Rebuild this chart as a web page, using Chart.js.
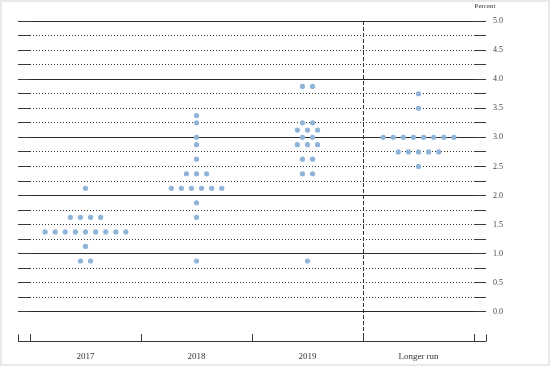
<!DOCTYPE html>
<html>
<head>
<meta charset="utf-8">
<style>
  html, body { margin: 0; padding: 0; background: #fff; }
  #wrap { position: relative; width: 550px; height: 366px; }
  #wrap canvas { display: block; }
  #wrap::after { content: ''; position: absolute; left: 0; top: 0; right: 0; bottom: 0; border: 2px solid #e9e9e9; box-sizing: border-box; pointer-events: none; }
</style>
<script src="https://cdn.jsdelivr.net/npm/chart.js@4/dist/chart.umd.min.js"></script>
</head>
<body>
<div id="wrap"><canvas id="c" width="550" height="366"></canvas></div>
<script>
// ---- Data ----
const categories = ['2017', '2018', '2019', 'Longer run'];
const rates2017 = [2.125,
  1.625, 1.625, 1.625, 1.625,
  1.375, 1.375, 1.375, 1.375, 1.375, 1.375, 1.375, 1.375, 1.375,
  1.125,
  0.875, 0.875];
const rates2018 = [3.375, 3.25, 3.0, 2.875, 2.625,
  2.375, 2.375, 2.375,
  2.125, 2.125, 2.125, 2.125, 2.125, 2.125,
  1.875, 1.625, 0.875];
const rates2019 = [3.875, 3.875,
  3.25, 3.25,
  3.125, 3.125, 3.125,
  3.0, 3.0,
  2.875, 2.875, 2.875,
  2.625, 2.625,
  2.375, 2.375,
  0.875];
const ratesLongerRun = [3.75, 3.5,
  3.0, 3.0, 3.0, 3.0, 3.0, 3.0, 3.0, 3.0,
  2.75, 2.75, 2.75, 2.75, 2.75,
  2.5];
const yTickValues = [-0.5, -0.25, 0, 0.25, 0.5, 0.75, 1, 1.25, 1.5, 1.75, 2, 2.25, 2.5, 2.75, 3, 3.25, 3.5, 3.75, 4, 4.25, 4.5, 4.75, 5];
const xTickValues = [-0.5, 0, 0.5, 1, 1.5, 2, 2.5, 3, 3.5];
const longerRunDivider = 2.5;

// ---- Build dot positions (dots of equal value spread side by side around the category centre) ----
const dotSpacing = 0.091; // in category units
const allRates = [rates2017, rates2018, rates2019, ratesLongerRun];
const points = [];
allRates.forEach((rates, ci) => {
  const counts = new Map();
  rates.forEach(r => counts.set(r, (counts.get(r) || 0) + 1));
  counts.forEach((n, r) => {
    for (let j = 0; j < n; j++) {
      points.push({ x: ci + (j - (n - 1) / 2) * dotSpacing, y: r });
    }
  });
});

const TRANSPARENT = 'rgba(0,0,0,0)';
const serif = 'Liberation Serif';

const yTickColor = ctx => {
  const v = ctx.tick ? ctx.tick.value : 0;
  if (v === -0.25) return TRANSPARENT;
  return '#3a3a3a';
};

const framePlugin = {
  id: 'frameExtras',
  afterDraw(chart) {
    const { ctx } = chart;
    const yr = chart.scales.y, yl = chart.scales.yl;
    const yb = Math.round(yr.getPixelForValue(-0.5)) + 0.5;
    ctx.save();
    ctx.strokeStyle = '#3a3a3a';
    ctx.lineWidth = 1;
    [yl.left, yr.left + 12].forEach(x => {
      const xx = Math.round(x) + 0.5;
      ctx.beginPath(); ctx.moveTo(xx, yb); ctx.lineTo(xx, yb - 7); ctx.stroke();
    });
    ctx.fillStyle = '#333';
    ctx.font = '7px "' + serif + '"';
    ctx.textAlign = 'center';
    ctx.textBaseline = 'alphabetic';
    ctx.fillText('Percent', yr.left + 11, 8);
    ctx.restore();
  }
};

new Chart(document.getElementById('c'), {
  type: 'scatter',
  data: {
    datasets: [{
      data: points,
      xAxisID: 'x',
      yAxisID: 'y',
      pointRadius: 2.6,
      pointHoverRadius: 2.6,
      backgroundColor: '#8fb4d8',
      borderWidth: 0
    }]
  },
  options: {
    responsive: false,
    animation: false,
    events: [],
    layout: { padding: { left: 18, top: 21, right: 0, bottom: 0 } },
    plugins: { legend: { display: false }, tooltip: { enabled: false }, title: { display: false } },
    scales: {
      x: {
        type: 'linear',
        position: 'bottom',
        min: -0.5,
        max: 3.5,
        afterBuildTicks: s => { s.ticks = xTickValues.map(v => ({ value: v })); },
        afterFit: s => { s.height = 25; },
        ticks: {
          autoSkip: false,
          maxRotation: 0,
          padding: 17,
          color: '#333',
          font: { family: serif, size: 9 },
          callback: v => Number.isInteger(v) ? categories[v] : ''
        },
        grid: {
          drawOnChartArea: true,
          tickLength: -7,
          lineWidth: 1,
          color: ctx => (ctx.tick && ctx.tick.value === longerRunDivider) ? '#333' : TRANSPARENT,
          tickColor: ctx => (ctx.tick && Number.isInteger(ctx.tick.value)) ? TRANSPARENT : '#3a3a3a'
        },
        border: {
          display: true,
          color: '#3a3a3a',
          width: 1,
          dash: ctx => (ctx.tick && ctx.tick.value === longerRunDivider) ? [4, 2] : []
        }
      },
      y: {
        type: 'linear',
        position: 'right',
        min: -0.5,
        max: 5,
        afterBuildTicks: s => { s.ticks = yTickValues.map(v => ({ value: v })); },
        afterFit: s => { s.width = 76; },
        ticks: {
          autoSkip: false,
          padding: 7,
          color: '#444',
          font: { family: serif, size: 8 },
          callback: v => (v >= 0 && Number.isInteger(v * 2)) ? v.toFixed(1) : ''
        },
        grid: {
          drawOnChartArea: true,
          tickLength: 12,
          lineWidth: 1,
          color: ctx => {
            const v = ctx.tick ? ctx.tick.value : 0;
            if (v < 0) return TRANSPARENT;
            return Number.isInteger(v) ? '#2a2a2a' : '#333';
          },
          tickColor: yTickColor
        },
        border: {
          display: false,
          dash: ctx => (ctx.tick && !Number.isInteger(ctx.tick.value)) ? [1, 2] : []
        }
      },
      yl: {
        type: 'linear',
        position: 'left',
        min: -0.5,
        max: 5,
        afterBuildTicks: s => { s.ticks = yTickValues.map(v => ({ value: v })); },
        afterFit: s => { s.width = 12; },
        ticks: { display: false },
        grid: {
          drawOnChartArea: false,
          tickLength: 12,
          lineWidth: 1,
          tickColor: yTickColor
        },
        border: { display: false }
      }
    }
  },
  plugins: [framePlugin]
});
</script>
</body>
</html>
